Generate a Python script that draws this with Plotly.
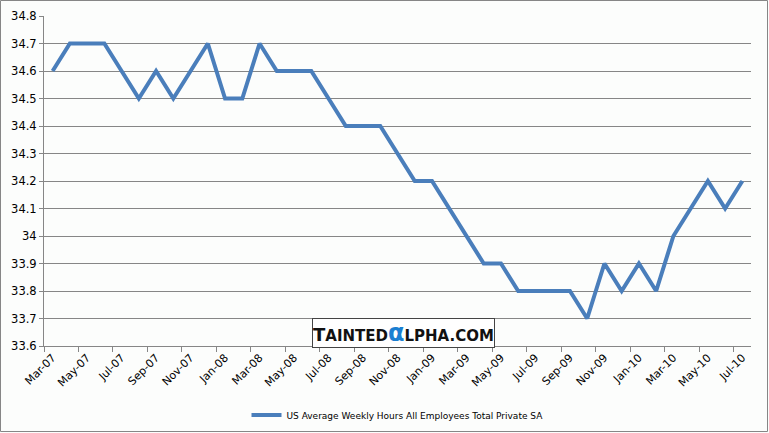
import plotly.graph_objects as go

months = ["Mar-07","Apr-07","May-07","Jun-07","Jul-07","Aug-07","Sep-07","Oct-07","Nov-07","Dec-07",
          "Jan-08","Feb-08","Mar-08","Apr-08","May-08","Jun-08","Jul-08","Aug-08","Sep-08","Oct-08",
          "Nov-08","Dec-08","Jan-09","Feb-09","Mar-09","Apr-09","May-09","Jun-09","Jul-09","Aug-09",
          "Sep-09","Oct-09","Nov-09","Dec-09","Jan-10","Feb-10","Mar-10","Apr-10","May-10","Jun-10","Jul-10"]
hours = [34.6,34.7,34.7,34.7,34.6,34.5,34.6,34.5,34.6,34.7,
         34.5,34.5,34.7,34.6,34.6,34.6,34.5,34.4,34.4,34.4,
         34.3,34.2,34.2,34.1,34.0,33.9,33.9,33.8,33.8,33.8,
         33.8,33.7,33.9,33.8,33.9,33.8,34.0,34.1,34.2,34.1,34.2]
series_name = "US Average Weekly Hours All Employees Total Private SA"
y_ticks = [33.6,33.7,33.8,33.9,34.0,34.1,34.2,34.3,34.4,34.5,34.6,34.7,34.8]
y_ticktext = ["33.6","33.7","33.8","33.9","34","34.1","34.2","34.3","34.4","34.5","34.6","34.7","34.8"]

idx = list(range(len(months)))
label_idx = idx[::2]
boundaries = [i - 0.5 for i in range(0, len(months) + 1, 2)]

fig = go.Figure()
fig.add_trace(go.Scatter(x=idx, y=hours, mode="lines", name=series_name,
                         line=dict(color="#4A7EBB", width=4), showlegend=True))

font = "DejaVu Sans, Verdana, sans-serif"
W, H = 769, 433
L, R, T, B = 44, 18, 16, 87
pw, ph = W - L - R, H - T - B

def px(x):
    return (x - L) / pw

def py(y):
    return (H - B - y) / ph

fig.update_layout(
    width=W, height=H,
    margin=dict(l=L, r=R, t=T, b=B, autoexpand=False),
    paper_bgcolor="#FCFDFC", plot_bgcolor="#FCFDFC",
    font=dict(family=font, size=10, color="#000000"),
    showlegend=True,
    legend=dict(orientation="h", x=0.5, xanchor="center", y=py(415), yanchor="middle",
                font=dict(size=9, family=font), bgcolor="rgba(0,0,0,0)"),
    xaxis=dict(range=[-0.5, len(months) - 0.5], tickvals=label_idx,
               ticktext=[months[i] for i in label_idx], tickangle=-45,
               ticks="", showgrid=False, zeroline=False, automargin=False,
               showline=True, linecolor="#868686", linewidth=1,
               tickfont=dict(size=11, family=font),
               minor=dict(tickvals=boundaries, ticks="outside", ticklen=5,
                          tickcolor="#868686", showgrid=False)),
    yaxis=dict(range=[33.6, 34.8], tickvals=y_ticks, ticktext=y_ticktext,
               showgrid=True, gridcolor="#868686", gridwidth=1, automargin=False,
               zeroline=False, showline=True, linecolor="#868686", linewidth=1,
               ticks="outside", ticklen=4, tickcolor="#868686",
               tickfont=dict(size=11.5, family=font)),
    shapes=[dict(type="rect", xref="paper", yref="paper",
                 x0=px(0.5), x1=px(767.5), y0=py(431.5), y1=py(0.5),
                 line=dict(color="#868686", width=1), fillcolor="rgba(0,0,0,0)", layer="below")],
    annotations=[dict(xref="paper", yref="paper", x=px(403), y=py(333),
                      xanchor="center", yanchor="middle", showarrow=False,
                      text="<b><span style='font-size:18px'>T</span>AINTED<span style='font-size:24px;color:#1B7FD1'>α</span>LPHA.COM</b>",
                      font=dict(family="DejaVu Sans, sans-serif", size=15, color="#111111"),
                      bgcolor="#FFFFFF", bordercolor="#444444", borderwidth=1, borderpad=0)]
)

fig.write_html("out.html", config={"displayModeBar": False},
               post_script="document.body.style.margin='0';document.body.style.overflow='hidden';")
